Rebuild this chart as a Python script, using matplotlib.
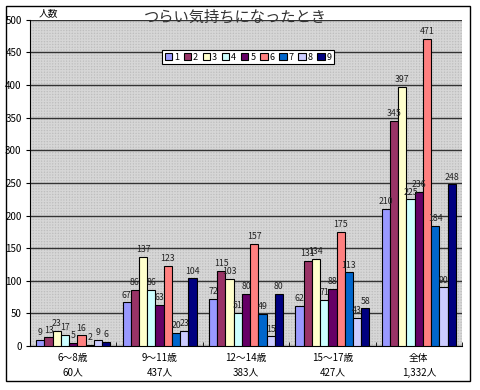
import numpy as np
import matplotlib.pyplot as plt
from matplotlib.patches import Rectangle

plt.rcParams['font.family'] = ['Noto Sans CJK JP', 'DejaVu Sans']

# ==============================
# Data
# ==============================

groups = ["6～8歳\n60人", "9～11歳\n437人", "12～14歳\n383人", "15～17歳\n427人", "全体\n1,332人"]

series_names = ["1", "2", "3", "4", "5", "6", "7", "8", "9"]

s1 = [9, 67, 72, 62, 210]
s2 = [13, 86, 115, 131, 345]
s3 = [23, 137, 103, 134, 397]
s4 = [17, 86, 51, 71, 225]
s5 = [5, 63, 80, 88, 236]
s6 = [16, 123, 157, 175, 471]
s7 = [2, 20, 49, 113, 184]
s8 = [9, 23, 15, 43, 90]
s9 = [6, 104, 80, 58, 248]

series = [s1, s2, s3, s4, s5, s6, s7, s8, s9]

colors = ["#9999FF", "#993366", "#FFFFCC", "#CCFFFF", "#660066",
          "#FF8080", "#0066CC", "#CCCCFF", "#000080"]

# ==============================
# Figure
# ==============================

fig = plt.figure(figsize=(4.8, 3.9), dpi=100)
ax = fig.add_axes([0.0625, 0.113, 0.9, 0.836])

# outer frame
fig.patches.append(Rectangle((0.012, 0.022), 0.968, 0.962, transform=fig.transFigure,
                             fill=False, edgecolor="black", linewidth=1))

ax.set_facecolor("#BEBEBE")
ax.add_patch(Rectangle((0, 0), 1, 1, transform=ax.transAxes, facecolor="none",
                       edgecolor="#D6D6D6", hatch="++++++", linewidth=0, zorder=0))

x = np.arange(len(groups))
width = 0.095
n = len(series)

for i, vals in enumerate(series):
    pos = x + (i - (n - 1) / 2) * width
    ax.bar(pos, vals, width, color=colors[i], edgecolor="black", linewidth=0.8,
           label=series_names[i], zorder=3)
    for p, v in zip(pos, vals):
        ax.text(p, v + 4, str(v), ha="center", va="bottom", fontsize=6.3,
                color="#222222", zorder=4)

ax.set_xlim(-0.5, len(groups) - 0.5)
ax.set_ylim(0, 500)
ax.set_yticks(np.arange(0, 501, 50))
ax.yaxis.grid(True, color="#333333", linewidth=1, zorder=1)
ax.set_axisbelow(True)

ax.set_xticks(x)
ax.set_xticklabels(groups, fontsize=7, linespacing=1.6)
ax.set_xticks(np.arange(-0.5, len(groups)), minor=True)
ax.tick_params(axis="x", which="major", length=0, pad=5)
ax.tick_params(axis="x", which="minor", length=3, direction="in")
ax.tick_params(axis="y", labelsize=7, length=3, pad=3)

for side in ["top", "right"]:
    ax.spines[side].set_visible(False)
ax.spines["left"].set_color("black")
ax.spines["bottom"].set_color("black")

ax.text(0.02, 1.005, "人数", transform=ax.transAxes, fontsize=7, ha="left", va="bottom")
fig.text(0.49, 0.955, "つらい気持ちになったとき", fontsize=11, ha="center", va="center",
         color="#333333")

leg = ax.legend(loc="center", bbox_to_anchor=(0.505, 0.886), ncol=9, fontsize=6.5,
                handlelength=0.8, handleheight=0.8, handletextpad=0.2, columnspacing=0.55,
                borderpad=0.3, fancybox=False, framealpha=1, edgecolor="black")
leg.get_frame().set_linewidth(0.8)
leg.set_zorder(5)

plt.savefig("out.png", dpi=100)
plt.close()
